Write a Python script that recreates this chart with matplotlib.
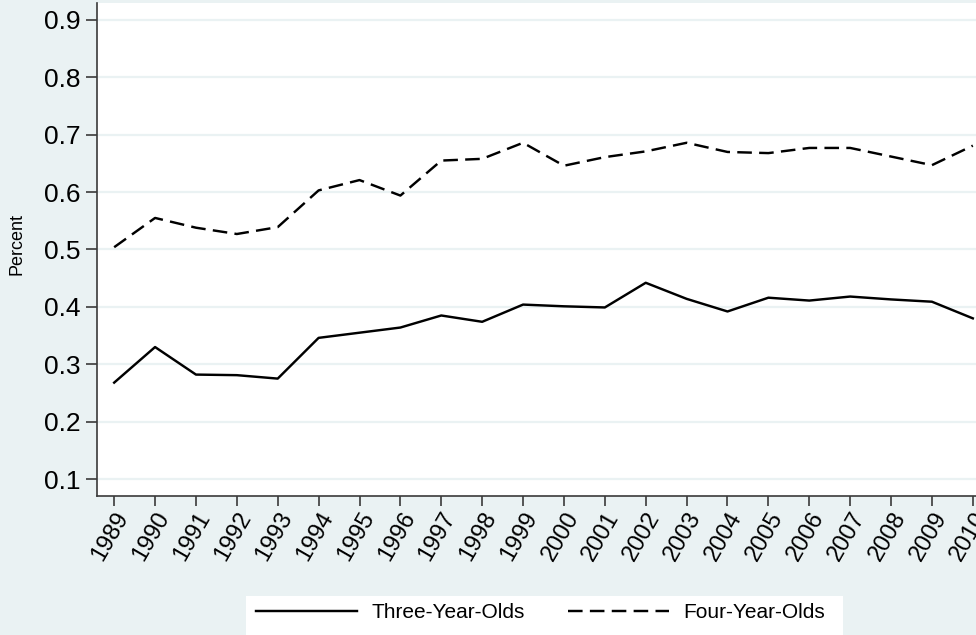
import matplotlib.pyplot as plt
from matplotlib.patches import Rectangle

plt.rcParams['font.family'] = ['Liberation Sans', 'DejaVu Sans']

years = list(range(1989, 2011))
three_year_olds = [0.268, 0.330, 0.282, 0.281, 0.275, 0.346, 0.355, 0.364, 0.385, 0.374, 0.404,
                   0.401, 0.399, 0.442, 0.414, 0.392, 0.416, 0.411, 0.418, 0.413, 0.409, 0.380]
four_year_olds = [0.504, 0.555, 0.538, 0.527, 0.539, 0.603, 0.621, 0.594, 0.655, 0.658, 0.686,
                  0.646, 0.661, 0.671, 0.686, 0.670, 0.668, 0.677, 0.677, 0.662, 0.647, 0.681]
yticks = [0.1, 0.2, 0.3, 0.4, 0.5, 0.6, 0.7, 0.8, 0.9]

bg = '#EAF2F3'
axc = '#3a3a3a'

fig = plt.figure(figsize=(9.76, 6.35), dpi=100, facecolor=bg)
ax = fig.add_axes([97/976, 1 - 496/635, 893/976, 493/635])
ax.set_facecolor('white')

ax.plot(years, three_year_olds, color='black', lw=1.75, label='Three-Year-Olds')
ax.plot(years, four_year_olds, color='black', lw=1.75, dashes=(6, 3), label='Four-Year-Olds')

ax.set_xlim(1988.58, 2010.42)
ax.set_ylim(0.0704, 0.9296)
ax.set_yticks(yticks)
ax.set_yticklabels([f'{v:.1f}' for v in yticks])
ax.set_xticks(years)
ax.set_xticklabels([str(y) for y in years], rotation=60, ha='right', va='top',
                   rotation_mode='anchor')
ax.grid(axis='y', color=bg, lw=1.6)
ax.set_axisbelow(True)

for s in ['top', 'right']:
    ax.spines[s].set_visible(False)
for s in ['left', 'bottom']:
    ax.spines[s].set_color(axc)
    ax.spines[s].set_linewidth(1.2)
ax.tick_params(axis='y', labelsize=19, length=8, width=1.2, color=axc, pad=4)
ax.tick_params(axis='x', labelsize=17, length=7.5, width=1.2, color=axc, pad=1)
ax.set_ylabel('Percent', fontsize=13)
ax.yaxis.set_label_coords(-71/893, (496 - 244)/493)

# legend box
fig.patches.append(Rectangle((246/976, -0.05), (843 - 246)/976, 0.05 + 1 - 596/635,
                             transform=fig.transFigure, facecolor='white', edgecolor='none'))
fig.legend(loc='center left', bbox_to_anchor=(256/976, 1 - 613/635), ncol=2, frameon=False,
           fontsize=15, handlelength=4.85, handletextpad=0.7, columnspacing=2.05,
           borderpad=0, borderaxespad=0)

fig.savefig('out.png', dpi=100, facecolor=bg)
